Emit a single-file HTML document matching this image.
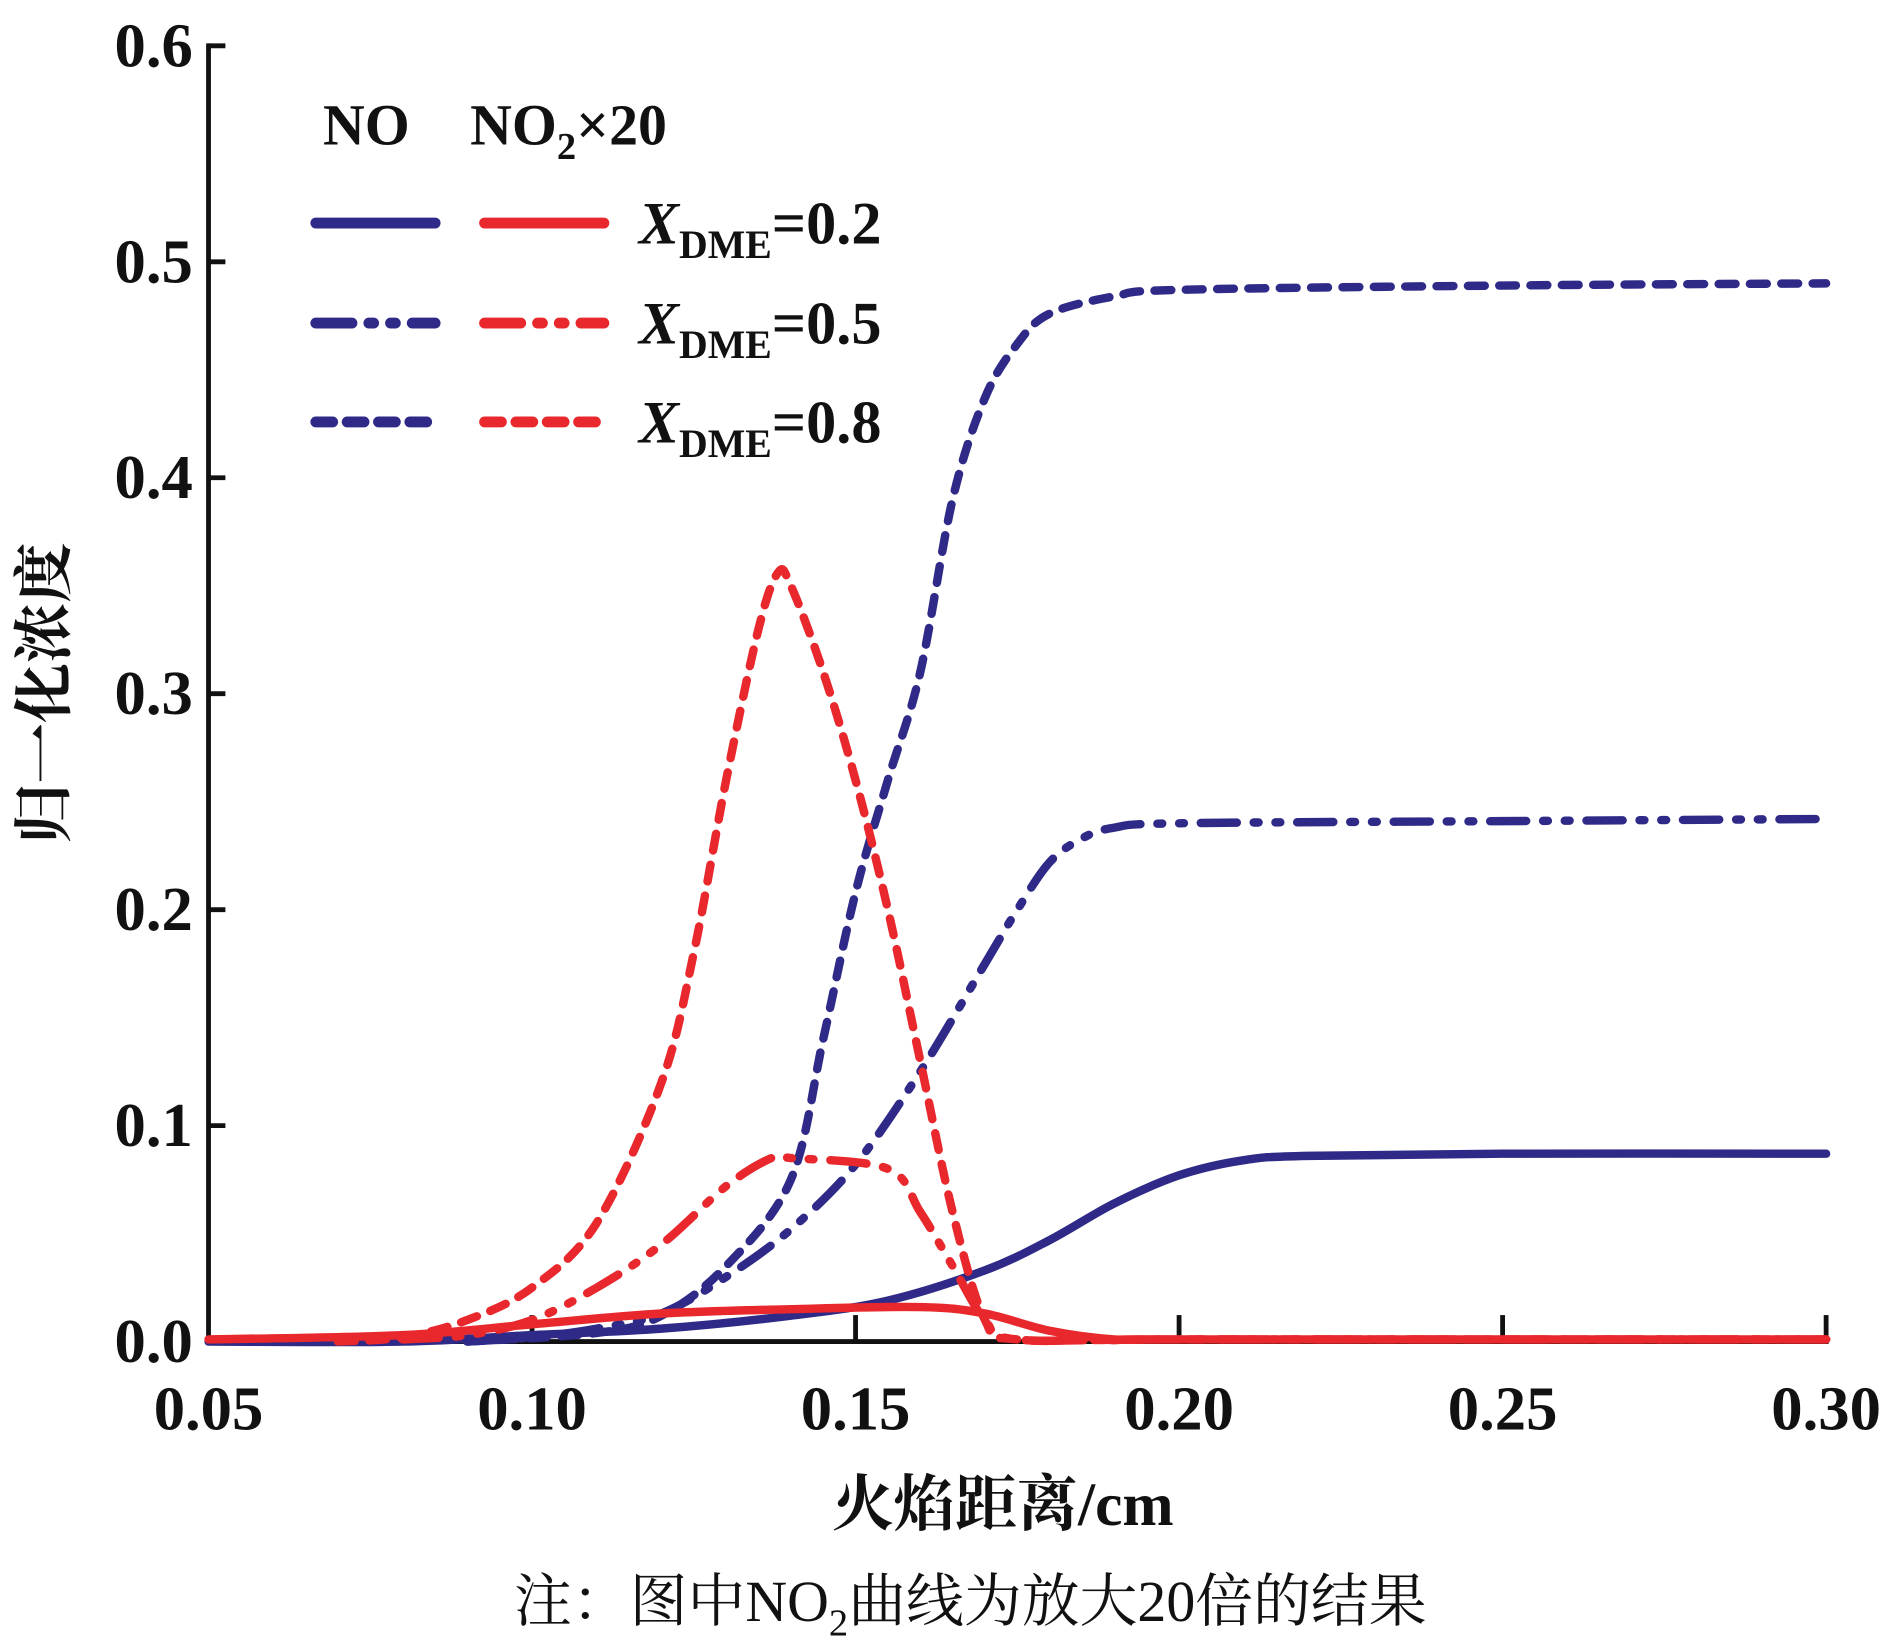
<!DOCTYPE html>
<html><head><meta charset="utf-8"><style>
html,body{margin:0;padding:0;background:#fff}
svg{display:block}
text{font-family:"Liberation Serif","Noto Serif CJK SC",serif;fill:#111}
</style></head><body>
<svg id="chart" width="1890" height="1652" viewBox="0 0 1568 1370.5" xmlns="http://www.w3.org/2000/svg">
<g id="axes"></g>
<g id="series"></g>
<g>
 <text x="268" y="120" font-size="48" font-weight="bold">NO</text>
 <text x="390" y="120" font-size="48" font-weight="bold">NO<tspan font-size="32" dy="12">2</tspan><tspan dy="-12">×20</tspan></text>
 <g id="legend-lines"></g>
 <text x="530" y="202" font-size="50" font-weight="bold"><tspan font-style="italic">X</tspan><tspan font-size="33" dy="12">DME</tspan><tspan dy="-12">=0.2</tspan></text>
 <text x="530" y="285" font-size="50" font-weight="bold"><tspan font-style="italic">X</tspan><tspan font-size="33" dy="12">DME</tspan><tspan dy="-12">=0.5</tspan></text>
 <text x="530" y="367" font-size="50" font-weight="bold"><tspan font-style="italic">X</tspan><tspan font-size="33" dy="12">DME</tspan><tspan dy="-12">=0.8</tspan></text>
</g>
<text x="832" y="1265" font-size="51" font-weight="bold" text-anchor="middle">火焰距离/cm</text>
<text transform="translate(54,575) rotate(-90)" font-size="50" font-weight="bold" text-anchor="middle">归一化浓度</text>
<text x="805" y="1345" font-size="48" text-anchor="middle">注：图中NO<tspan font-size="32" dy="12">2</tspan><tspan dy="-12">曲线为放大20倍的结果</tspan></text>
</svg>
<script>
const xTicks=[0.05,0.10,0.15,0.20,0.25,0.30];
const xTickLabels=["0.05","0.10","0.15","0.20","0.25","0.30"];
const yTicks=[0,0.1,0.2,0.3,0.4,0.5,0.6];
const yTickLabels=["0.0","0.1","0.2","0.3","0.4","0.5","0.6"];
const xNO02=[0.05,0.08,0.10,0.12,0.14,0.155,0.17,0.18,0.19,0.20,0.21,0.22,0.25,0.30];
const yNO02=[0,0,0.003,0.006,0.012,0.019,0.033,0.047,0.064,0.077,0.084,0.086,0.087,0.087];
const xNO05=[0.09,0.10,0.11,0.12,0.13,0.14,0.15,0.16,0.17,0.175,0.18,0.185,0.19,0.20,0.25,0.30];
const yNO05=[0,0.002,0.006,0.013,0.03,0.052,0.082,0.125,0.175,0.2,0.222,0.233,0.238,0.24,0.241,0.242];
const xNO08=[0.09,0.11,0.12,0.13,0.14,0.145,0.15,0.155,0.16,0.165,0.17,0.175,0.18,0.19,0.20,0.25,0.30];
const yNO08=[0,0.004,0.012,0.035,0.075,0.14,0.208,0.26,0.31,0.39,0.437,0.462,0.476,0.484,0.487,0.489,0.49];
const xNO2_02=[0.05,0.08,0.10,0.12,0.14,0.16,0.17,0.18,0.19,0.20,0.30];
const yNO2_02=[0.001,0.003,0.008,0.013,0.015,0.016,0.013,0.005,0.001,0.001,0.001];
const xNO2_05=[0.08,0.09,0.10,0.11,0.12,0.13,0.137,0.14,0.155,0.16,0.165,0.17,0.175,0.20,0.30];
const yNO2_05=[0.001,0.003,0.01,0.025,0.045,0.072,0.085,0.085,0.08,0.06,0.035,0.01,0.001,0.001,0.001];
const xNO2_08=[0.07,0.08,0.09,0.10,0.11,0.12,0.125,0.13,0.135,0.138,0.14,0.145,0.15,0.155,0.16,0.165,0.17,0.175,0.20,0.30];
const yNO2_08=[0,0.002,0.01,0.025,0.055,0.12,0.18,0.26,0.33,0.356,0.35,0.31,0.26,0.2,0.13,0.06,0.01,0.001,0.001,0.001];

const NS="http://www.w3.org/2000/svg";
const X0=173,X1=1515,Y0=1113,Y1=38;
function sx(v){return X0+(v-0.05)/(0.25)*(X1-X0);}
function sy(v){return Y0-v/0.6*(Y0-Y1);}
function mk(tag,attrs,parent){const e=document.createElementNS(NS,tag);for(const k in attrs)e.setAttribute(k,attrs[k]);parent.appendChild(e);return e;}
const axes=document.getElementById('axes');
let a=mk('line',{x1:X0,y1:Y1-2,x2:X0,y2:Y0+2,stroke:'#111','stroke-width':4},axes);


a=mk('line',{x1:X0-2,y1:Y0,x2:X1+2,y2:Y0,stroke:'#111','stroke-width':4},axes);


yTicks.forEach((v,i)=>{
 const t=mk('line',{x1:X0,y1:sy(v),x2:X0+14,y2:sy(v),stroke:'#111','stroke-width':4},axes);
 
 
 const l=mk('text',{x:160,y:sy(v)+17,'font-size':52,'font-weight':'bold','text-anchor':'end'},axes);
 l.textContent=yTickLabels[i];
 
 
});
xTicks.forEach((v,i)=>{
 if(i>0){const t=mk('line',{x1:sx(v),y1:Y0,x2:sx(v),y2:Y0-22,stroke:'#111','stroke-width':4},axes);
 
 }
 const l=mk('text',{x:sx(v),y:1186,'font-size':52,'font-weight':'bold','text-anchor':'middle'},axes);
 l.textContent=xTickLabels[i];
 
 
});
function pathD(xs,ys){
 const p=xs.map((x,i)=>[sx(x),sy(ys[i])]);
 let d='M'+p[0][0]+','+p[0][1];
 for(let i=0;i<p.length-1;i++){
  const p0=p[Math.max(0,i-1)],p1=p[i],p2=p[i+1],p3=p[Math.min(p.length-1,i+2)];
  const c1=[p1[0]+(p2[0]-p0[0])/6,p1[1]+(p2[1]-p0[1])/6];
  const c2=[p2[0]-(p3[0]-p1[0])/6,p2[1]-(p3[1]-p1[1])/6];
  d+=' C'+c1[0]+','+c1[1]+' '+c2[0]+','+c2[1]+' '+p2[0]+','+p2[1];
 }
 return d;
}
const BLUE='#2f2a88',RED='#e8282c';
const DASH={solid:'none',dashdot:'30 14 4 14 4 14',dot:'14 12'};
const ser=document.getElementById('series');
const defs=[
 [xNO02,yNO02,BLUE,'solid','line-no-0.2'],
 [xNO05,yNO05,BLUE,'dashdot','line-no-0.5'],
 [xNO08,yNO08,BLUE,'dot','line-no-0.8'],
 [xNO2_02,yNO2_02,RED,'solid','line-no2-0.2'],
 [xNO2_05,yNO2_05,RED,'dashdot','line-no2-0.5'],
 [xNO2_08,yNO2_08,RED,'dot','line-no2-0.8']];
defs.forEach(s=>{
 const p=mk('path',{d:pathD(s[0],s[1]),fill:'none',stroke:s[2],'stroke-width':7,'stroke-linecap':'round','stroke-dasharray':DASH[s[3]]},ser);
 
 
});
const lg=document.getElementById('legend-lines');
[['solid',185],['dashdot',268],['dot',350]].forEach(r=>{
 [[258,365,BLUE],[398,505,RED]].forEach(c=>{
  const l=mk('line',{x1:c[0]+4,y1:r[1],x2:c[1]-4,y2:r[1],stroke:c[2],'stroke-width':9,'stroke-linecap':'round','stroke-dasharray':DASH[r[0]]},lg);
  
  
 });
});
</script>
</body></html>
